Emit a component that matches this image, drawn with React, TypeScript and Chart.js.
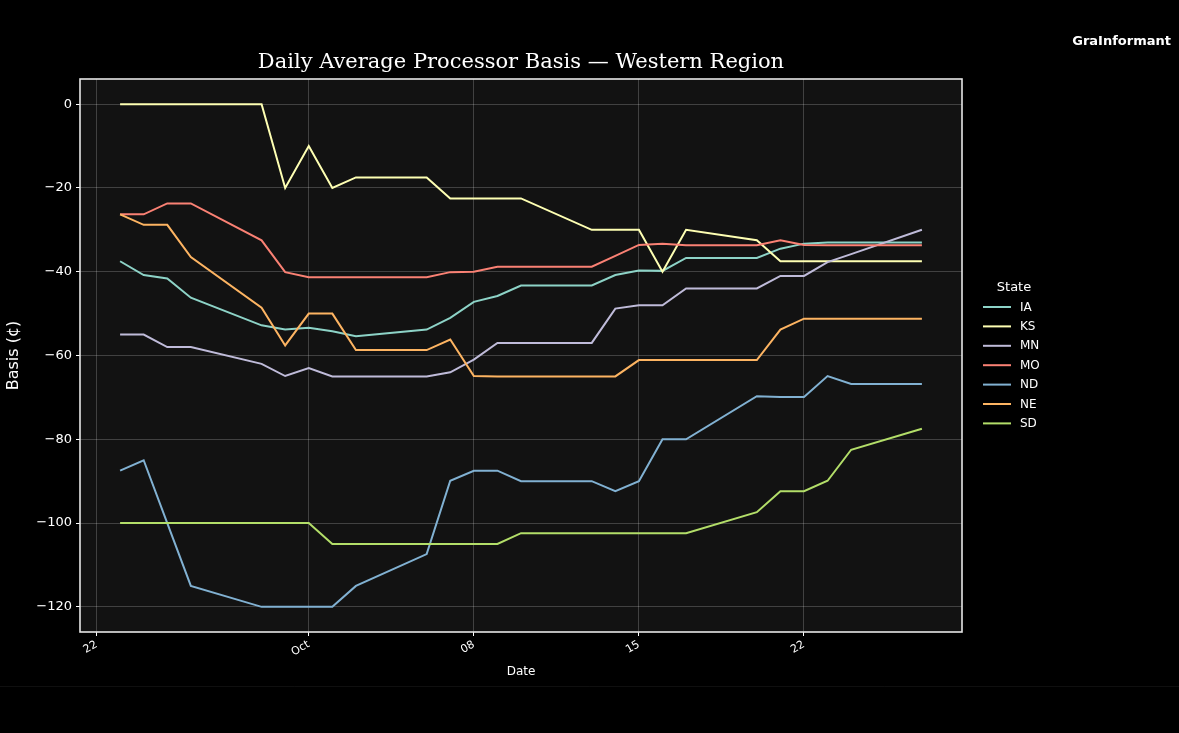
import React, { useEffect, useRef } from "react";
import { Chart, registerables } from "chart.js";

Chart.register(...registerables);

const W = 1179;
const H = 733;

const dates = [
  "2025-09-23", "2025-09-24", "2025-09-25", "2025-09-26",
  "2025-09-29", "2025-09-30", "2025-10-01", "2025-10-02", "2025-10-03",
  "2025-10-06", "2025-10-07", "2025-10-08", "2025-10-09", "2025-10-10",
  "2025-10-13", "2025-10-14", "2025-10-15", "2025-10-16", "2025-10-17",
  "2025-10-20", "2025-10-21", "2025-10-22", "2025-10-23", "2025-10-24",
  "2025-10-27",
];

const states = ["IA", "KS", "MN", "MO", "ND", "NE", "SD"];

const IA = [-37.5, -40.8, -41.6, -46.2, -52.8, -53.8, -53.4, -54.2, -55.4, -53.8, -51.0, -47.2, -45.8, -43.3, -43.3, -40.8, -39.7, -39.8, -36.7, -36.7, -34.5, -33.3, -33.0, -33.0, -33.0];
const KS = [0, 0, 0, 0, 0, -20, -10, -20, -17.5, -17.5, -22.5, -22.5, -22.5, -22.5, -30, -30, -30, -40, -30, -32.5, -37.5, -37.5, -37.5, -37.5, -37.5];
const MN = [-55, -55, -58, -58, -62, -64.9, -63, -65, -65, -65, -64, -61, -57, -57, -57, -48.8, -48, -48, -44, -44, -41, -41, -37.7, -35.8, -30];
const MO = [-26.3, -26.3, -23.7, -23.7, -32.5, -40.1, -41.3, -41.3, -41.3, -41.3, -40.1, -40.0, -38.8, -38.8, -38.8, -36.2, -33.6, -33.3, -33.7, -33.7, -32.5, -33.6, -33.7, -33.7, -33.7];
const ND = [-87.5, -85, -100, -115, -120, -120, -120, -120, -115, -107.4, -89.9, -87.5, -87.5, -90, -90, -92.4, -90, -80, -80, -69.7, -69.9, -69.9, -64.9, -66.8, -66.8];
const NE = [-26.3, -28.8, -28.8, -36.5, -48.6, -57.6, -50, -50, -58.7, -58.7, -56.2, -64.9, -65, -65, -65, -65, -61.1, -61.1, -61.1, -61.1, -53.8, -51.2, -51.2, -51.2, -51.2];
const SD = [-100, -100, -100, -100, -100, -100, -100, -105, -105, -105, -105, -105, -105, -102.4, -102.4, -102.4, -102.4, -102.4, -102.4, -97.4, -92.4, -92.4, -89.9, -82.5, -77.5];

const seriesValues = [IA, KS, MN, MO, ND, NE, SD];
const colors = ["#8dd3c7", "#feffb3", "#bfbbd9", "#fa8174", "#81b1d2", "#fdb462", "#b3de69"];

const tickDates = ["2025-09-22", "2025-10-01", "2025-10-08", "2025-10-15", "2025-10-22"];
const tickLabels = ["22", "Oct", "08", "15", "22"];
const yTicks = [0, -20, -40, -60, -80, -100, -120];

const BASE = Date.parse("2025-09-22T00:00:00Z");
const dayOf = (d: string) => (Date.parse(d + "T00:00:00Z") - BASE) / 86400000;

const TITLE = "Daily Average Processor Basis — Western Region";
const BRAND = "GraInformant";
const FONT = "'DejaVu Sans', sans-serif";

export default function App() {
  const ref = useRef<HTMLCanvasElement | null>(null);

  useEffect(() => {
    if (!ref.current) return;
    document.body.style.margin = "0";
    document.body.style.background = "#000";

    const xTickDays = tickDates.map(dayOf);

    const decor = {
      id: "decor",
      beforeDraw(chart: any) {
        const { ctx, chartArea } = chart;
        ctx.save();
        ctx.fillStyle = "#000";
        ctx.fillRect(0, 0, chart.width, chart.height);
        ctx.fillStyle = "#121212";
        ctx.fillRect(chartArea.left, chartArea.top, chartArea.right - chartArea.left, chartArea.bottom - chartArea.top);
        ctx.restore();
      },
      afterDraw(chart: any) {
        const { ctx, chartArea } = chart;
        ctx.save();
        // frame
        ctx.strokeStyle = "#e6e6e6";
        ctx.lineWidth = 1.6;
        ctx.strokeRect(chartArea.left, chartArea.top, chartArea.right - chartArea.left, chartArea.bottom - chartArea.top);
        // title
        ctx.fillStyle = "#ffffff";
        ctx.font = "21px 'DejaVu Serif', serif";
        ctx.textAlign = "center";
        ctx.textBaseline = "middle";
        ctx.fillText(TITLE, (chartArea.left + chartArea.right) / 2, 63);
        // brand
        ctx.font = `bold 13px ${FONT}`;
        ctx.textAlign = "right";
        ctx.fillText(BRAND, 1171, 42);
        // legend
        ctx.font = `13px ${FONT}`;
        ctx.textAlign = "center";
        ctx.fillText("State", 1014, 288);
        ctx.font = `12px ${FONT}`;
        ctx.textAlign = "left";
        states.forEach((s, i) => {
          const y = 307 + i * 19.4;
          ctx.strokeStyle = colors[i];
          ctx.lineWidth = 2;
          ctx.beginPath();
          ctx.moveTo(983, y);
          ctx.lineTo(1011, y);
          ctx.stroke();
          ctx.fillStyle = "#ffffff";
          ctx.fillText(s, 1020, y + 0.5);
        });
        // faint bottom band line
        ctx.strokeStyle = "rgba(255,255,255,0.06)";
        ctx.lineWidth = 1;
        ctx.beginPath();
        ctx.moveTo(0, 686.5);
        ctx.lineTo(chart.width, 686.5);
        ctx.stroke();
        ctx.restore();
      },
    };

    const chart = new Chart(ref.current, {
      type: "line",
      data: {
        datasets: states.map((s, i) => ({
          label: s,
          data: dates.map((d, j) => ({ x: dayOf(d), y: seriesValues[i][j] })),
          borderColor: colors[i],
          backgroundColor: colors[i],
          borderWidth: 2,
          pointRadius: 0,
          tension: 0,
          fill: false,
          order: states.length - i,
        })),
      },
      options: {
        animation: false,
        responsive: false,
        devicePixelRatio: 1,
        parsing: false as any,
        layout: { padding: { left: 0, top: 79, right: 217, bottom: 0 } },
        plugins: {
          legend: { display: false },
          tooltip: { enabled: false },
          title: { display: false },
        },
        scales: {
          x: {
            type: "linear",
            min: -0.7,
            max: 36.7,
            afterBuildTicks: (scale: any) => {
              scale.ticks = xTickDays.map((v) => ({ value: v }));
            },
            afterFit: (scale: any) => {
              scale.height = H - 632;
            },
            ticks: {
              color: "#ffffff",
              font: { family: FONT, size: 11 },
              maxRotation: 30,
              minRotation: 30,
              autoSkip: false,
              padding: 2,
              callback: (v: any) => {
                const k = xTickDays.findIndex((t) => Math.abs(t - Number(v)) < 1e-6);
                return k >= 0 ? tickLabels[k] : "";
              },
            },
            grid: {
              color: "rgba(255,255,255,0.2)",
              lineWidth: 1,
              tickColor: "#ffffff",
              tickLength: 4,
            },
            border: { display: false },
            title: {
              display: true,
              text: "Date",
              color: "#ffffff",
              font: { family: FONT, size: 12 },
              padding: { top: 0, bottom: 54 },
            },
          },
          y: {
            type: "linear",
            min: -126,
            max: 6,
            afterBuildTicks: (scale: any) => {
              scale.ticks = yTicks.map((v) => ({ value: v }));
            },
            afterFit: (scale: any) => {
              scale.width = 80;
            },
            ticks: {
              color: "#ffffff",
              font: { family: FONT, size: 13 },
              padding: 4,
              callback: (v: any) => (Number(v) < 0 ? "\u2212" + Math.abs(Number(v)) : String(v)),
            },
            grid: {
              color: "rgba(255,255,255,0.2)",
              lineWidth: 1,
              tickColor: "#ffffff",
              tickLength: 4,
            },
            border: { display: false },
            title: {
              display: true,
              text: "Basis (¢)",
              color: "#ffffff",
              font: { family: FONT, size: 16 },
              padding: { top: 4, bottom: 0 },
            },
          },
        },
      },
      plugins: [decor],
    } as any);

    return () => chart.destroy();
  }, []);

  return (
    <div style={{ position: "fixed", left: 0, top: 0, width: W, height: H, background: "#000" }}>
      <canvas ref={ref} width={W} height={H} style={{ width: W, height: H, display: "block" }} />
    </div>
  );
}
